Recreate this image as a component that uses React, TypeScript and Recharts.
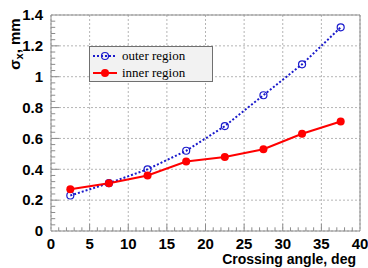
import React from "react";
import {
  LineChart,
  Line,
  XAxis,
  YAxis,
  CartesianGrid,
  ReferenceLine,
} from "recharts";

const angles = [2.5, 7.5, 12.5, 17.5, 22.5, 27.5, 32.5, 37.5];
const outerRegion = [0.23, 0.31, 0.4, 0.52, 0.68, 0.88, 1.08, 1.32];
const innerRegion = [0.27, 0.31, 0.36, 0.45, 0.48, 0.53, 0.63, 0.71];
const xTicks = [0, 5, 10, 15, 20, 25, 30, 35, 40];
const yTicks = [0, 0.2, 0.4, 0.6, 0.8, 1.0, 1.2, 1.4];

const data = angles.map((a, i) => ({
  angle: a,
  outer: outerRegion[i],
  inner: innerRegion[i],
}));

const xMinor: number[] = [];
for (let i = 1; i < 40; i++) if (i % 5 !== 0) xMinor.push(i);
const yMinor: number[] = [];
for (let i = 1; i < 35; i++) if (i % 5 !== 0) yMinor.push(i * 0.04);

const GRAY = "#8c8c8c";
const BLUE = "#1a1acc";
const RED = "#ff0000";

function LegendBox() {
  return (
    <div
      style={{
        position: "absolute",
        left: 89,
        top: 46,
        width: 122,
        height: 34,
        background: "#f2f2f2",
        border: "1px solid #707070",
        fontFamily: "'Liberation Serif', 'DejaVu Serif', serif",
        fontSize: 13,
        color: "#000",
      }}
    >
      <div style={{ display: "flex", alignItems: "center", height: 17 }}>
        <svg width={30} height={12}>
          <line x1={3} y1={6} x2={27} y2={6} stroke={BLUE} strokeWidth={2} strokeDasharray="2 2" />
          <circle cx={15} cy={6} r={3.5} fill="none" stroke={BLUE} strokeWidth={1.2} />
        </svg>
        <span style={{ marginLeft: 2 }}>outer region</span>
      </div>
      <div style={{ display: "flex", alignItems: "center", height: 17 }}>
        <svg width={30} height={12}>
          <line x1={3} y1={6} x2={27} y2={6} stroke={RED} strokeWidth={2} />
          <circle cx={15} cy={6} r={4} fill={RED} />
        </svg>
        <span style={{ marginLeft: 2 }}>inner region</span>
      </div>
    </div>
  );
}

export default function App() {
  const tickFont = {
    fontFamily: "'Liberation Sans', Arial, sans-serif",
    fontWeight: 700,
    fontSize: 15,
    fill: "#000",
  };
  return (
    <div style={{ position: "absolute", left: 0, top: 0, width: 368, height: 268, background: "#fff" }}>
      <LineChart
        width={368}
        height={268}
        data={data}
        margin={{ top: 15, right: 8, left: 0, bottom: 0 }}
      >
        <CartesianGrid
          stroke="#b5b5b5"
          strokeDasharray="2 2"
          horizontalValues={yTicks}
          verticalValues={xTicks}
        />
        <XAxis
          dataKey="angle"
          type="number"
          domain={[0, 40]}
          ticks={xTicks}
          height={37}
          tickLine={false}
          tickMargin={1}
          axisLine={{ stroke: GRAY }}
          tick={tickFont}
          label={{
            value: "Crossing angle, deg",
            position: "insideBottomRight",
            offset: 4,
            style: { ...tickFont, fontSize: 14, textAnchor: "end" },
          }}
        />
        <YAxis
          type="number"
          domain={[0, 1.4]}
          ticks={yTicks}
          width={51}
          tickLine={false}
          tickMargin={2}
          axisLine={{ stroke: GRAY }}
          tick={tickFont}
          tickFormatter={(v: number) => String(+v.toFixed(1))}
          label={{
            position: "insideTopLeft",
            content: () => (
              <text
                x={0}
                y={0}
                transform="translate(20 44) rotate(-90)"
                textAnchor="middle"
                style={{ ...tickFont, fontSize: 15 }}
              >
                σ
                <tspan fontSize={11} dy={3}>x</tspan>
                <tspan dy={-3}>, mm</tspan>
              </text>
            ),
          }}
        />
        <ReferenceLine x={40} stroke={GRAY} />
        <ReferenceLine y={1.4} stroke={GRAY} />
        {xTicks.slice(1, -1).map((t) => (
          <ReferenceLine
            key={"xM" + t}
            segment={[{ x: t, y: 0 }, { x: t, y: 0.045 }]}
            stroke={GRAY}
          />
        ))}
        {xMinor.map((t) => (
          <ReferenceLine
            key={"xm" + t}
            segment={[{ x: t, y: 0 }, { x: t, y: 0.024 }]}
            stroke={GRAY}
          />
        ))}
        {yTicks.slice(1, -1).map((t) => (
          <ReferenceLine
            key={"yM" + t}
            segment={[{ x: 0, y: t }, { x: 1.05, y: t }]}
            stroke={GRAY}
          />
        ))}
        {yMinor.map((t) => (
          <ReferenceLine
            key={"ym" + t}
            segment={[{ x: 0, y: t }, { x: 0.55, y: t }]}
            stroke={GRAY}
          />
        ))}
        <Line
          dataKey="outer"
          stroke={BLUE}
          strokeWidth={2}
          strokeDasharray="2 2"
          dot={{ r: 3.5, fill: "none", stroke: BLUE, strokeWidth: 1.2, strokeDasharray: "" }}
          isAnimationActive={false}
        />
        <Line
          dataKey="inner"
          stroke={RED}
          strokeWidth={2}
          dot={{ r: 4, fill: RED, stroke: RED, strokeWidth: 0 }}
          isAnimationActive={false}
        />
      </LineChart>
      <LegendBox />
    </div>
  );
}
